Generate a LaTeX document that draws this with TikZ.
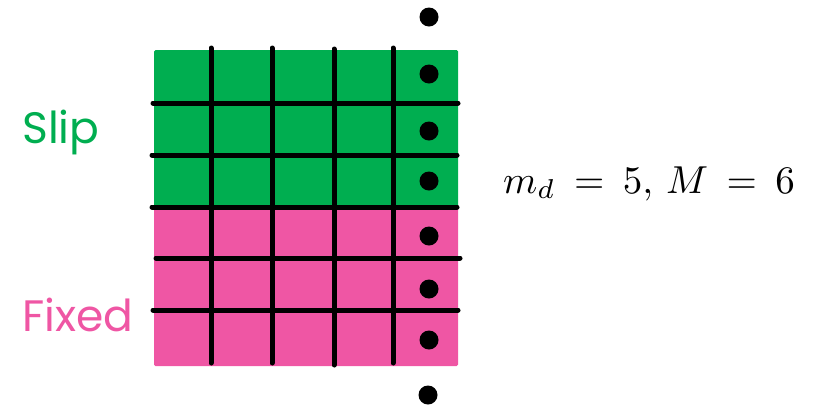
\documentclass[tikz,border=0pt]{standalone}
\usepackage{fontspec}
\usepackage{graphicx}
\newfontfamily\gothic{Poppins}
\definecolor{slipgreen}{RGB}{0,174,80}
\definecolor{fixpink}{RGB}{239,86,164}
\begin{document}
\begin{tikzpicture}[x=1pt,y=-1pt,
  gridline/.style={line width=5pt,line cap=round,black},
  dotmark/.style={circle,fill=black,inner sep=0pt,minimum size=19pt},
  label/.style={inner sep=0pt,anchor=base west,font=\gothic\fontsize{44}{44}\selectfont}]
\useasboundingbox (0,0) rectangle (827,408);
\fill[slipgreen,rounded corners=1.5pt] (154,50) rectangle (458,207);
\fill[fixpink,rounded corners=1.5pt] (154,207) rectangle (458,366);
% vertical lines
\draw[gridline] (211,48) -- (211,363);
\draw[gridline] (272,48) -- (272,363);
\draw[gridline] (334,49) -- (334,365);
\draw[gridline] (393,48) -- (393,363);
% horizontal lines
\draw[gridline] (153,103) -- (458,103);
\draw[gridline] (152,155) -- (457,155);
\draw[gridline] (152,207) -- (457,207);
\draw[gridline] (156,258) -- (460,258);
\draw[gridline] (153,310) -- (458,310);
% dots
\node[dotmark] (d0) at (429,17) {};
\node[dotmark] (d1) at (429,74) {};
\node[dotmark] (d2) at (429,131) {};
\node[dotmark] (d3) at (429,181) {};
\node[dotmark] (d4) at (429,236) {};
\node[dotmark] (d5) at (429,289) {};
\node[dotmark] (d6) at (429,340) {};
\node[dotmark] (d7) at (428,395) {};
% labels
\node[label,text=slipgreen] (slip) at (22,143) {Slip};
\node[label,text=fixpink] (fixed) at (22,331) {Fixed};
\node[inner sep=0pt,anchor=base west] (eq) at (503,193) {\scalebox{3.9}{\thickmuskip=8.5mu $m_d = 5,\, M = 6$}};
\end{tikzpicture}
\end{document}
